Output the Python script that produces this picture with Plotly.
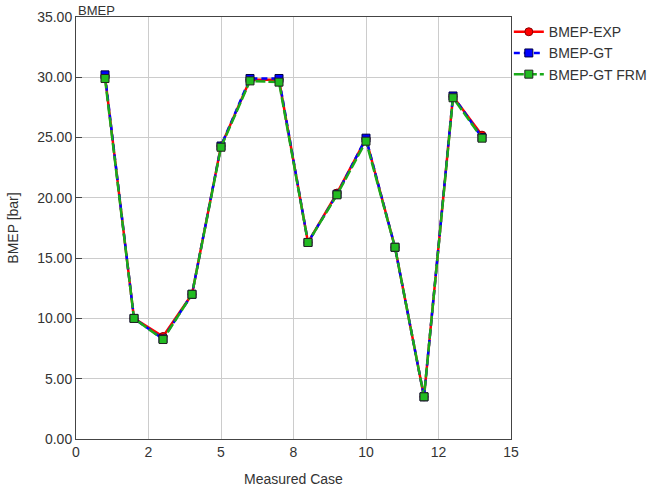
import plotly.graph_objects as go

cases = [1, 2, 3, 4, 5, 6, 7, 8, 9, 10, 11, 12, 13, 14]
bmep_exp = [30.1, 10.0, 8.5, 12.0, 24.3, 29.8, 29.8, 16.3, 20.4, 24.9, 15.9, 3.5, 28.4, 25.2]
bmep_gt = [30.2, 10.0, 8.3, 12.0, 24.3, 29.9, 29.9, 16.3, 20.3, 24.95, 15.9, 3.5, 28.45, 25.0]
bmep_frm = [29.9, 10.0, 8.25, 12.0, 24.2, 29.7, 29.6, 16.3, 20.25, 24.7, 15.9, 3.5, 28.3, 24.95]

x_tickvals = [0, 2.5, 5, 7.5, 10, 12.5, 15]
x_ticktext = ["0", "2", "5", "8", "10", "12", "15"]
y_tickvals = [0, 5, 10, 15, 20, 25, 30, 35]
y_ticktext = ["%.2f" % v for v in y_tickvals]

font = "Liberation Sans, Arial, sans-serif"

fig = go.Figure()
fig.add_trace(go.Scatter(
    x=cases, y=bmep_exp, name="BMEP-EXP", mode="lines+markers",
    line=dict(color="#ff0000", width=2.5),
    marker=dict(symbol="circle", size=8, color="#ff0000", line=dict(color="#880000", width=1)),
))
fig.add_trace(go.Scatter(
    x=cases, y=bmep_gt, name="BMEP-GT", mode="lines+markers",
    line=dict(color="#0000ff", width=2.5, dash="6px,4px"),
    marker=dict(symbol="square", size=8, color="#0000ff", line=dict(color="#000044", width=1)),
))
fig.add_trace(go.Scatter(
    x=cases, y=bmep_frm, name="BMEP-GT FRM", mode="lines+markers",
    line=dict(color="#1aaa1a", width=2.5, dash="10px,3px"),
    marker=dict(symbol="square", size=8, color="#22bb22", line=dict(color="#222222", width=1)),
))

fig.update_layout(
    width=648, height=489,
    margin=dict(l=76, r=137, t=17, b=50, autoexpand=False),
    paper_bgcolor="white", plot_bgcolor="white",
    font=dict(family=font, size=14, color="#333333"),
    showlegend=True,
    legend=dict(x=0.995, xanchor="left", y=1.002, yanchor="top",
                font=dict(size=14, color="#333333"), bgcolor="rgba(0,0,0,0)",
                tracegroupgap=0, itemwidth=30),
    annotations=[dict(text="BMEP", x=0, y=1, xref="paper", yref="paper",
                      xanchor="left", yanchor="bottom", showarrow=False,
                      font=dict(size=13, color="#333333"), yshift=-3)],
)
fig.update_xaxes(
    range=[0, 15], tickvals=x_tickvals, ticktext=x_ticktext,
    showgrid=True, gridcolor="#cccccc", gridwidth=1,
    showline=True, linecolor="#444444", linewidth=1, mirror=True,
    ticks="", automargin=False,
    title=dict(text="Measured Case", font=dict(size=14, color="#333333"), standoff=15),
    tickfont=dict(size=14, color="#333333"), zeroline=False,
)
fig.update_yaxes(
    range=[0, 35], tickvals=y_tickvals, ticktext=y_ticktext,
    showgrid=True, gridcolor="#cccccc", gridwidth=1,
    showline=True, linecolor="#444444", linewidth=1, mirror=True,
    ticks="inside", ticklen=6, tickcolor="#444444", automargin=False,
    title=dict(text="BMEP [bar]", font=dict(size=14, color="#333333"), standoff=15),
    tickfont=dict(size=14, color="#333333"), zeroline=False,
)

# remove the browser's default 8px body margin so the figure sits at the page origin
fig.write_html("out.html", config={"displayModeBar": False},
               post_script="document.body.style.margin='0px';")
